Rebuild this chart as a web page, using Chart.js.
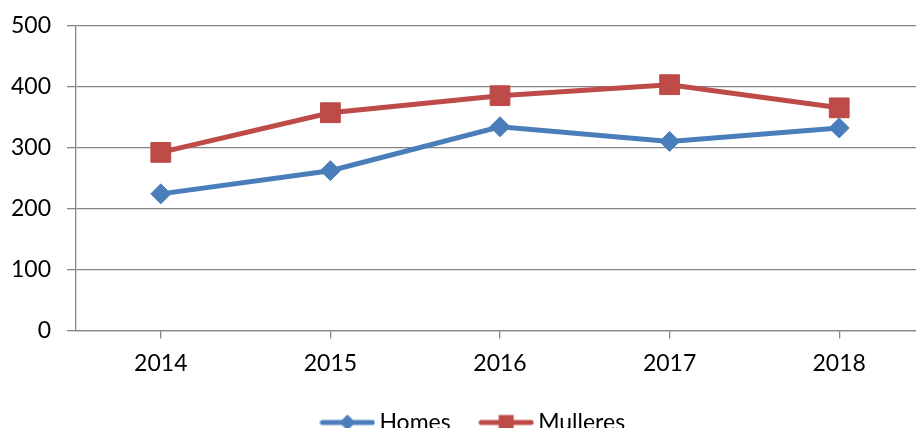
<!DOCTYPE html>
<html>
<head>
<meta charset="utf-8">
<script src="https://cdn.jsdelivr.net/npm/chart.js@4"></script>
<style>
  html, body { margin: 0; padding: 0; background: #fff; overflow: hidden; width: 916px; height: 428px; }
  #wrap { position: absolute; left: 0; top: 0; width: 952px; height: 444px; }
</style>
</head>
<body>
<div id="wrap"><canvas id="c" width="952" height="444"></canvas></div>
<script>
const categories = ['2014', '2015', '2016', '2017', '2018'];
const homes = [224, 262, 334, 310, 332];
const mulleres = [292, 357, 385, 403, 365];
const yTicks = [0, 100, 200, 300, 400, 500];

const BLUE = '#4a7ebb';
const RED = '#be4b48';
const GRID = '#868686';
const FONT = 'Lato';

function legendImage(color, shape) {
  const cv = document.createElement('canvas');
  cv.width = 56; cv.height = 22;
  const g = cv.getContext('2d');
  g.strokeStyle = color; g.lineWidth = 5; g.lineCap = 'round';
  g.beginPath(); g.moveTo(3, 11); g.lineTo(53, 11); g.stroke();
  g.fillStyle = color;
  g.beginPath();
  if (shape === 'diamond') {
    g.moveTo(28, 3); g.lineTo(36, 11); g.lineTo(28, 19); g.lineTo(20, 11); g.closePath();
  } else {
    g.rect(20.5, 3.5, 15, 15);
  }
  g.fill();
  return cv;
}
const legendImgs = [legendImage(BLUE, 'diamond'), legendImage(RED, 'square')];

// centre the legend group where the reference has it
const shiftLegend = {
  id: 'shiftLegend',
  afterLayout(chart) {
    const lg = chart.legend;
    if (lg) { lg.left += 8.5; lg.right += 8.5; }
  }
};

new Chart(document.getElementById('c'), {
  type: 'line',
  data: {
    labels: categories,
    datasets: [
      {
        label: 'Homes', data: homes,
        borderColor: BLUE, backgroundColor: BLUE, borderWidth: 5, tension: 0,
        pointStyle: 'rectRot', pointRadius: 10, pointBackgroundColor: BLUE,
        pointBorderColor: BLUE, pointBorderWidth: 1
      },
      {
        label: 'Mulleres', data: mulleres,
        borderColor: RED, backgroundColor: RED, borderWidth: 5, tension: 0,
        pointStyle: 'rect', pointRadius: 14, pointBackgroundColor: RED,
        pointBorderColor: RED, pointBorderWidth: 1
      }
    ]
  },
  plugins: [shiftLegend],
  options: {
    responsive: false,
    animation: false,
    devicePixelRatio: 1,
    layout: { padding: { left: 11, right: 28, top: 25.5, bottom: 0 } },
    plugins: {
      tooltip: { enabled: false },
      legend: {
        position: 'bottom',
        labels: {
          usePointStyle: true,
          pointStyleWidth: 41,
          padding: 35,
          color: '#000',
          font: { family: FONT, size: 23 },
          generateLabels(chart) {
            const items = Chart.defaults.plugins.legend.labels.generateLabels(chart);
            items.forEach((it, i) => { it.pointStyle = legendImgs[i]; });
            return items;
          }
        }
      }
    },
    scales: {
      x: {
        type: 'category',
        offset: true,
        afterFit(scale) { scale.height = 45.5; },
        grid: { display: true, drawOnChartArea: false, drawTicks: true, tickLength: 8, color: GRID, lineWidth: 1.3 },
        border: { display: true, color: GRID, width: 1.3 },
        ticks: { color: '#000', padding: 14, font: { family: FONT, size: 23, lineHeight: 1.0 } }
      },
      y: {
        min: 0, max: 500,
        afterFit(scale) { scale.width = 65; scale.paddingTop = 0; scale.paddingBottom = 0; },
        afterBuildTicks(scale) { scale.ticks = yTicks.map(v => ({ value: v })); },
        grid: { color: GRID, lineWidth: 1.3, tickLength: 9, drawTicks: true },
        border: { display: true, color: GRID, width: 1.3 },
        ticks: { color: '#000', padding: 16, font: { family: FONT, size: 23 } }
      }
    }
  }
});
</script>
</body>
</html>
